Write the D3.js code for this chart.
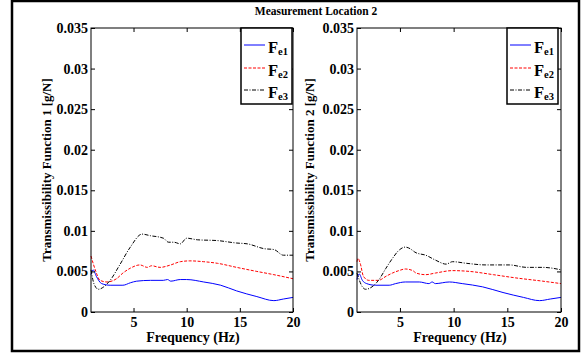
<!DOCTYPE html>
<html>
<head>
<meta charset="utf-8">
<script src="https://cdn.jsdelivr.net/npm/d3@7"></script>
<style>
  body { margin: 0; background: #fff; }
  svg text { font-family: "Liberation Serif", "DejaVu Serif", serif; font-weight: bold; fill: #000; }
</style>
</head>
<body>
<svg id="chart"></svg>
<script>
// Data: [frequency Hz, transmissibility g/N]
const xTicks = [5, 10, 15, 20];
const yTicks = [0, 0.005, 0.01, 0.015, 0.02, 0.025, 0.03, 0.035];
const seriesNames = ["e1", "e2", "e3"];

// location 2, function 1
const tf1_e1 = [[1,0.0046],[1.2,0.0052],[1.5,0.0044],[2,0.0035],[2.8,0.0033],[4,0.0033],[4.7,0.0036],[5.3,0.0038],
  [6.6,0.0039],[7.8,0.0039],[8.2,0.0040],[8.5,0.0038],[9.4,0.0040],[10,0.0040],[11.6,0.0037],[13.2,0.0033],
  [14.7,0.0026],[16.6,0.0019],[18.2,0.0014],[19.1,0.0016],[20,0.0018]];
const tf1_e2 = [[1,0.0069],[1.4,0.0052],[1.85,0.0039],[2.5,0.0037],[3.4,0.0041],[4,0.0048],[4.7,0.0054],[5.6,0.0058],
  [6.3,0.0055],[6.7,0.0057],[7.5,0.0055],[8.5,0.0058],[9.4,0.0062],[10.3,0.0063],[11.6,0.0062],[12.9,0.0060],
  [14.7,0.0055],[16.6,0.0050],[18.2,0.0046],[20,0.0041]];
const tf1_e3 = [[1,0.0052],[1.3,0.0034],[1.7,0.0028],[2.2,0.0031],[2.8,0.0039],[3.7,0.0058],[4.7,0.0080],[5.8,0.0096],
  [6.6,0.0094],[7.8,0.0091],[8.3,0.0086],[8.8,0.0086],[9.4,0.0084],[10,0.0091],[11,0.0089],[12.9,0.0088],
  [14.7,0.0085],[15.7,0.0084],[17.3,0.0078],[18.2,0.0077],[19.1,0.0070],[20,0.0070]];

// location 2, function 2
const tf2_e1 = [[1,0.0040],[1.2,0.0047],[1.5,0.0039],[1.9,0.0035],[2.7,0.0033],[4,0.0033],[4.6,0.0035],[5.5,0.0037],
  [6.8,0.0037],[7.7,0.0035],[8,0.0037],[8.3,0.0035],[9.6,0.0037],[10.8,0.0035],[12.7,0.0031],[14.6,0.0024],
  [16.5,0.0018],[18,0.0014],[19,0.0016],[20,0.0018]];
const tf2_e2 = [[1,0.0062],[1.1,0.0066],[1.3,0.0060],[1.6,0.0044],[2.1,0.0039],[3,0.0039],[3.7,0.0044],[4.3,0.0048],
  [4.9,0.0051],[5.5,0.0053],[6.2,0.0051],[6.5,0.0048],[7.4,0.0046],[8.3,0.0048],[9.9,0.0051],[11.5,0.0050],
  [13.7,0.0046],[15.8,0.0042],[18.3,0.0038],[20,0.0035]];
const tf2_e3 = [[1,0.0048],[1.5,0.0031],[1.8,0.0028],[2.4,0.0031],[3,0.0039],[3.7,0.0054],[4.3,0.0066],[4.9,0.0076],
  [5.5,0.0080],[5.8,0.0079],[6.5,0.0073],[7.4,0.0070],[8.3,0.0064],[9.3,0.0059],[9.9,0.0062],[11.2,0.0060],
  [13,0.0058],[15.2,0.0058],[16.8,0.0055],[18.3,0.0055],[20,0.0052]];

const W = 584, H = 354;
const svg = d3.select("#chart").attr("width", W).attr("height", H);

// outer frame
svg.append("rect")
  .attr("x", 12).attr("y", 1).attr("width", 567).attr("height", 350)
  .attr("fill", "none").attr("stroke", "#000").attr("stroke-width", 2.5);

svg.append("text")
  .attr("x", 316).attr("y", 15)
  .attr("text-anchor", "middle")
  .style("font-size", "11.5px")
  .text("Measurement Location 2");

const styles = [
  { color: "#0000ff", dash: null },
  { color: "#ff0000", dash: "3,1.5" },
  { color: "#000000", dash: "4,1.5,1,1.5" }
];

const panels = [
  { left: 91, right: 293, legendLeft: 241, legendRight: 292, label: "Transmissibility Function 1 [g/N]", labelX: 51, series: [tf1_e1, tf1_e2, tf1_e3] },
  { left: 357, right: 561, legendLeft: 507, legendRight: 558, label: "Transmissibility Function 2 [g/N]", labelX: 314, series: [tf2_e1, tf2_e2, tf2_e3] }
];

const plotTop = 28, plotBottom = 312;

panels.forEach(p => {
  const x = d3.scaleLinear().domain([1, 20]).range([p.left, p.right]);
  const y = d3.scaleLinear().domain([0, 0.035]).range([plotBottom, plotTop]);
  const g = svg.append("g");

  // curves
  const line = d3.line().x(d => x(d[0])).y(d => y(d[1])).curve(d3.curveMonotoneX);
  p.series.forEach((s, i) => {
    g.append("path")
      .datum(s)
      .attr("d", line)
      .attr("fill", "none")
      .attr("stroke", styles[i].color)
      .attr("stroke-width", 1)
      .attr("stroke-dasharray", styles[i].dash);
  });

  // axes: ticks point inward, MATLAB style
  const ax = (axis, tr) => {
    const a = g.append("g").attr("transform", tr).call(axis);
    a.select(".domain").remove();
    a.selectAll("line").attr("stroke", "#000");
    a.selectAll("text").style("font-size", "14px").attr("font-family", null);
    return a;
  };
  ax(d3.axisBottom(x).tickValues(xTicks).tickSizeInner(-4).tickPadding(5).tickFormat(d3.format("d")), `translate(0,${plotBottom})`);
  ax(d3.axisTop(x).tickValues(xTicks).tickSizeInner(-4).tickFormat(""), `translate(0,${plotTop})`);
  ax(d3.axisLeft(y).tickValues(yTicks).tickSizeInner(-4).tickPadding(3).tickFormat(d => d === 0 ? "0" : String(+d.toFixed(3))), `translate(${p.left},0)`);
  ax(d3.axisRight(y).tickValues(yTicks).tickSizeInner(-4).tickFormat(""), `translate(${p.right},0)`);

  g.append("rect")
    .attr("x", p.left).attr("y", plotTop)
    .attr("width", p.right - p.left).attr("height", plotBottom - plotTop)
    .attr("fill", "none").attr("stroke", "#000").attr("stroke-width", 1);

  g.append("text")
    .attr("x", (p.left + p.right) / 2 + 1).attr("y", 342)
    .attr("text-anchor", "middle")
    .style("font-size", "14px")
    .text("Frequency (Hz)");

  g.append("text")
    .attr("transform", `translate(${p.labelX},${(plotTop + plotBottom) / 2}) rotate(-90)`)
    .attr("text-anchor", "middle")
    .style("font-size", "13px")
    .text(p.label);

  // legend
  const lg = g.append("g");
  lg.append("rect")
    .attr("x", p.legendLeft).attr("y", plotTop)
    .attr("width", p.legendRight - p.legendLeft).attr("height", 76)
    .attr("fill", "#fff").attr("stroke", "#000").attr("stroke-width", 1.5);
  const rowY = [17, 40, 62];
  seriesNames.forEach((name, i) => {
    const ly = plotTop + rowY[i];
    lg.append("line")
      .attr("x1", p.legendLeft + 3).attr("x2", p.legendLeft + 24)
      .attr("y1", ly).attr("y2", ly)
      .attr("stroke", styles[i].color).attr("stroke-width", 1)
      .attr("stroke-dasharray", styles[i].dash);
    const t = lg.append("text")
      .attr("x", p.legendLeft + 27).attr("y", ly + 8)
      .style("font-size", "16.5px");
    t.append("tspan").text("F");
    t.append("tspan").attr("dy", 2).style("font-size", "10.5px").text(name);
  });
});
</script>
</body>
</html>
